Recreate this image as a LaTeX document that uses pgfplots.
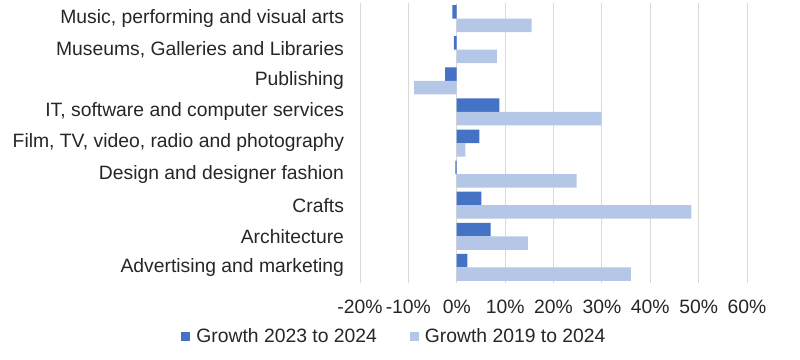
\documentclass[border=0pt]{standalone}
\usepackage{fontspec}
\setmainfont{Liberation Sans}
\usepackage{pgfplots}
\pgfplotsset{compat=1.18}
\definecolor{darkb}{HTML}{4472C4}
\definecolor{lightb}{HTML}{B4C7E7}
\definecolor{gridc}{HTML}{D9D9D9}
\begin{document}
\begin{tikzpicture}
\useasboundingbox (-360bp,-77bp) rectangle (440bp,283bp);
\begin{axis}[
 at={(0,0)}, anchor=south west,
 scale only axis, width=387bp, height=280bp,
 xmin=-20, xmax=60, ymin=-0.5, ymax=8.5,
 xtick={-20,-10,...,60},
 xticklabel={\pgfmathprintnumber{\tick}\%},
 ytick={0,...,8},
 yticklabels={Advertising and marketing, Architecture, Crafts, Design and designer fashion, {Film, TV, video, radio and photography}, {IT, software and computer services}, Publishing, {Museums, Galleries and Libraries}, {Music, performing and visual arts}},
 xmajorgrids, grid style={gridc, line width=0.8bp},
 axis line style={draw=none}, major tick length=0pt,
 font=\fontsize{19.4}{22}\selectfont,
 ticklabel style={font=\fontsize{19.4}{22}\selectfont, text=black!85},
 yticklabel style={xshift=-12.5bp},
 xticklabel style={yshift=-13bp},
 /pgf/number format/assume math mode=true,
 xbar, bar width=13.5bp,
 legend style={at={(0.089,-0.19)}, anchor=center, draw=none, fill=none,
   font=\fontsize{19.4}{22}\selectfont, text=black!85,
   /tikz/every even column/.append style={column sep=31bp}},
 legend columns=2, legend cell align=left,
]
\addplot[fill=darkb, draw=none, bar shift=6.75bp,
  legend image code/.code={\fill[darkb] (0bp,-4.5bp) rectangle (9bp,4.5bp); \path (13bp,0bp);}]
 coordinates {(2.2,0) (7.0,1) (5.1,2) (-0.3,3) (4.7,4) (8.8,5) (-2.4,6) (-0.6,7) (-0.9,8)};
\addlegendentry{Growth 2023 to 2024}
\addplot[fill=lightb, draw=none, bar shift=-6.75bp,
  legend image code/.code={\fill[lightb] (0bp,-4.5bp) rectangle (9bp,4.5bp); \path (13bp,0bp);}]
 coordinates {(36.0,0) (14.7,1) (48.5,2) (24.8,3) (1.8,4) (29.9,5) (-8.8,6) (8.3,7) (15.5,8)};
\addlegendentry{Growth 2019 to 2024}
\end{axis}
\end{tikzpicture}
\end{document}
